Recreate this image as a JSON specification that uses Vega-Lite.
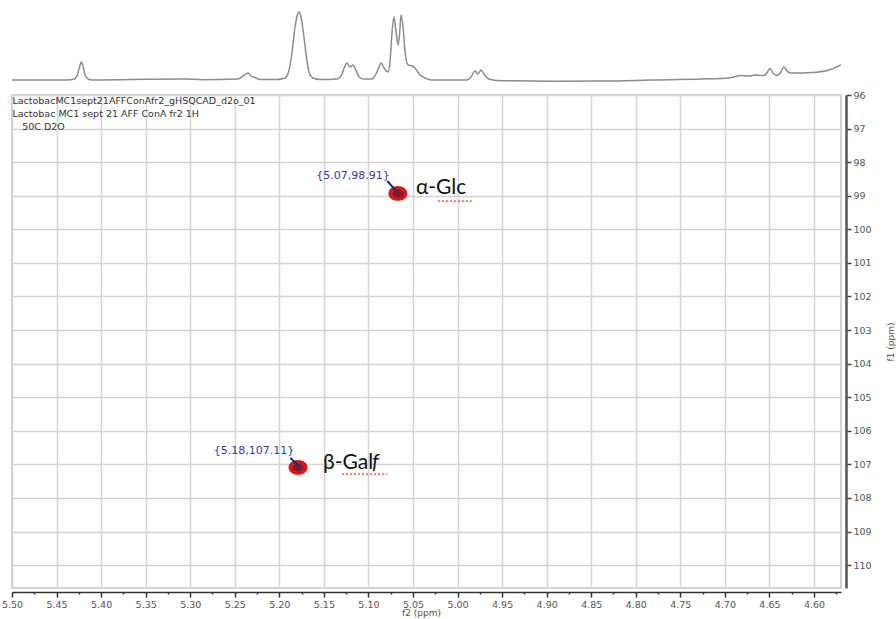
{
  "$schema": "https://vega.github.io/schema/vega-lite/v6.json",
  "padding": {"left": 0, "top": 5, "right": 3, "bottom": 0},
  "background": "white",
  "spacing": 10,
  "bounds": "flush",
  "config": {"view": {"stroke": null}, "font": "DejaVu Sans"},
  "datasets": {
    "spectrum": [
      {"ppm": 5.5, "i": 2}, {"ppm": 5.466, "i": 2}, {"ppm": 5.438, "i": 2}, {"ppm": 5.43, "i": 3},
      {"ppm": 5.427, "i": 6}, {"ppm": 5.4245, "i": 14}, {"ppm": 5.4223, "i": 20}, {"ppm": 5.42, "i": 15},
      {"ppm": 5.418, "i": 7}, {"ppm": 5.4145, "i": 3}, {"ppm": 5.41, "i": 2}, {"ppm": 5.365, "i": 2.5},
      {"ppm": 5.3056, "i": 3}, {"ppm": 5.2867, "i": 2.3}, {"ppm": 5.2463, "i": 3}, {"ppm": 5.2407, "i": 6},
      {"ppm": 5.2351, "i": 9}, {"ppm": 5.2317, "i": 6}, {"ppm": 5.2273, "i": 4.5}, {"ppm": 5.2216, "i": 2.5},
      {"ppm": 5.2026, "i": 2.5}, {"ppm": 5.1936, "i": 4}, {"ppm": 5.1891, "i": 12}, {"ppm": 5.1857, "i": 30},
      {"ppm": 5.1824, "i": 55}, {"ppm": 5.1801, "i": 66}, {"ppm": 5.1779, "i": 70}, {"ppm": 5.1757, "i": 65},
      {"ppm": 5.1734, "i": 52}, {"ppm": 5.17, "i": 28}, {"ppm": 5.1667, "i": 10}, {"ppm": 5.1622, "i": 4},
      {"ppm": 5.1544, "i": 2.5}, {"ppm": 5.1353, "i": 3}, {"ppm": 5.1297, "i": 8}, {"ppm": 5.1263, "i": 16},
      {"ppm": 5.1241, "i": 19}, {"ppm": 5.1207, "i": 15}, {"ppm": 5.1174, "i": 17}, {"ppm": 5.114, "i": 12},
      {"ppm": 5.1106, "i": 5}, {"ppm": 5.105, "i": 3}, {"ppm": 5.096, "i": 3}, {"ppm": 5.0915, "i": 8},
      {"ppm": 5.0881, "i": 15}, {"ppm": 5.0859, "i": 19}, {"ppm": 5.0825, "i": 14}, {"ppm": 5.078, "i": 10},
      {"ppm": 5.0758, "i": 20}, {"ppm": 5.0735, "i": 50}, {"ppm": 5.0713, "i": 65}, {"ppm": 5.069, "i": 50},
      {"ppm": 5.0668, "i": 37}, {"ppm": 5.0651, "i": 48}, {"ppm": 5.0634, "i": 67}, {"ppm": 5.0612, "i": 55},
      {"ppm": 5.0589, "i": 30}, {"ppm": 5.0556, "i": 17}, {"ppm": 5.0511, "i": 16}, {"ppm": 5.0477, "i": 14},
      {"ppm": 5.0432, "i": 8}, {"ppm": 5.0365, "i": 4}, {"ppm": 5.0287, "i": 2}, {"ppm": 4.9894, "i": 2},
      {"ppm": 4.9849, "i": 5}, {"ppm": 4.9805, "i": 11}, {"ppm": 4.9771, "i": 8}, {"ppm": 4.9737, "i": 12},
      {"ppm": 4.9705, "i": 8}, {"ppm": 4.9649, "i": 3}, {"ppm": 4.9559, "i": 1.5}, {"ppm": 4.894, "i": 0.8},
      {"ppm": 4.838, "i": 1}, {"ppm": 4.782, "i": 2}, {"ppm": 4.726, "i": 3}, {"ppm": 4.6957, "i": 4},
      {"ppm": 4.681, "i": 6.5}, {"ppm": 4.6733, "i": 6}, {"ppm": 4.666, "i": 7}, {"ppm": 4.6585, "i": 6.5},
      {"ppm": 4.6548, "i": 7}, {"ppm": 4.6515, "i": 11}, {"ppm": 4.6494, "i": 13.5}, {"ppm": 4.646, "i": 9},
      {"ppm": 4.6416, "i": 6.5}, {"ppm": 4.6371, "i": 10}, {"ppm": 4.6337, "i": 15}, {"ppm": 4.6303, "i": 11},
      {"ppm": 4.6258, "i": 9}, {"ppm": 4.6023, "i": 9.5}, {"ppm": 4.5832, "i": 12}, {"ppm": 4.5698, "i": 17}
    ],
    "header": [
      {"x": 5.4995, "y": 96.18, "text": "LactobacMC1sept21AFFConAfr2_gHSQCAD_d2o_01"},
      {"x": 5.4995, "y": 96.57, "text": "Lactobac MC1 sept 21 AFF ConA fr2 1H"},
      {"x": 5.4885, "y": 96.95, "text": "50C D2O"}
    ],
    "peaks": [
      {"x": 5.067, "y": 98.93, "name": "α-Glc"},
      {"x": 5.179, "y": 107.09, "name": "β-Galf"}
    ],
    "coords": [
      {"x": 5.1174, "y": 98.41, "text": "{5.07,98.91}"},
      {"x": 5.2284, "y": 106.6, "text": "{5.18,107.11}"}
    ],
    "arrows": [
      {"x": 5.0788, "y": 98.56, "x2": 5.0698, "y2": 98.83},
      {"x": 5.1877, "y": 106.81, "x2": 5.1777, "y2": 107.05}
    ],
    "names": [
      {"x": 5.0467, "y": 98.77, "text": "α-Glc"},
      {"x": 5.151, "y": 106.96, "text": "β-Gal"}
    ],
    "italic": [
      {"x": 5.151, "y": 106.96, "text": "f"}
    ],
    "squiggle": [
      {"x": 5.0222, "x2": 4.9841, "y": 99.16},
      {"x": 5.1295, "x2": 5.079, "y": 107.29}
    ]
  },
  "vconcat": [
    {
      "width": 829,
      "height": 80,
      "data": {"name": "spectrum"},
      "mark": {"type": "line", "color": "#8c8c8c", "strokeWidth": 1.5, "interpolate": "monotone", "clip": true},
      "encoding": {
        "x": {"field": "ppm", "type": "quantitative", "scale": {"domain": [4.5697, 5.5], "reverse": true, "nice": false, "zero": false}, "axis": null},
        "y": {"field": "i", "type": "quantitative", "scale": {"domain": [-3, 77], "nice": false, "zero": false}, "axis": null}
      }
    },
    {
      "width": 829,
      "height": 493,
      "view": {"stroke": "#c4c4c4", "strokeWidth": 1.5},
      "encoding": {
        "x": {"field": "x", "type": "quantitative",
          "scale": {"domain": [4.5697, 5.5], "reverse": true, "nice": false, "zero": false},
          "axis": {
            "orient": "bottom", "offset": 4, "title": "f2 (ppm)",
            "values": [5.5, 5.475, 5.45, 5.425, 5.4, 5.375, 5.35, 5.325, 5.3, 5.275, 5.25, 5.225, 5.2, 5.175, 5.15, 5.125, 5.1, 5.075, 5.05, 5.025, 5.0, 4.975, 4.95, 4.925, 4.9, 4.875, 4.85, 4.825, 4.8, 4.775, 4.75, 4.725, 4.7, 4.675, 4.65, 4.625, 4.6, 4.575],
            "format": ".2f",
            "labelExpr": "abs(round(datum.value*40))%2==1 ? '' : datum.label",
            "labelOverlap": false,
            "labelFlush": false,
            "labelFont": "DejaVu Sans", "labelFontSize": 9.5, "labelColor": "#555", "labelPadding": 2,
            "tickSize": {"condition": {"test": "abs(round(datum.value*40))%2==1", "value": 2}, "value": 5},
            "tickColor": "#333", "tickWidth": 1.5,
            "domainColor": "#333", "domainWidth": 1.5,
            "grid": true, "gridColor": "#d4d4d4", "gridWidth": 1.5,
            "gridOpacity": {"condition": {"test": "abs(round(datum.value*40))%2==1", "value": 0}, "value": 1},
            "titleFont": "DejaVu Sans", "titleFontSize": 9, "titleFontWeight": "normal", "titleColor": "#555", "titlePadding": 0, "titleX": 409
          }
        },
        "y": {"field": "y", "type": "quantitative",
          "scale": {"domain": [96, 110.68], "reverse": true, "nice": false, "zero": false},
          "axis": {
            "orient": "right", "offset": 5, "title": "f1 (ppm)", "titleAngle": 270,
            "values": [96, 96.5, 97, 97.5, 98, 98.5, 99, 99.5, 100, 100.5, 101, 101.5, 102, 102.5, 103, 103.5, 104, 104.5, 105, 105.5, 106, 106.5, 107, 107.5, 108, 108.5, 109, 109.5, 110, 110.5],
            "format": "d",
            "labelExpr": "datum.value % 1 != 0 ? '' : datum.label",
            "labelOverlap": false,
            "labelFlush": false,
            "labelFont": "DejaVu Sans", "labelFontSize": 9.5, "labelColor": "#555", "labelPadding": 2,
            "tickSize": {"condition": {"test": "datum.value % 1 != 0", "value": 2}, "value": 5},
            "tickColor": "#444", "tickWidth": 1.5,
            "domainColor": "#555", "domainWidth": 2.5,
            "grid": true, "gridColor": "#d4d4d4", "gridWidth": 1.5,
            "gridOpacity": {"condition": {"test": "datum.value % 1 != 0", "value": 0}, "value": 1},
            "titleFont": "DejaVu Sans", "titleFontSize": 9, "titleFontWeight": "normal", "titleColor": "#555", "titlePadding": 24
          }
        }
      },
      "layer": [
        {
          "data": {"name": "header"},
          "mark": {"type": "text", "align": "left", "baseline": "middle", "font": "DejaVu Sans", "fontSize": 9.5, "color": "#333"},
          "encoding": {"text": {"field": "text"}}
        },
        {
          "data": {"name": "peaks"},
          "mark": {"type": "point", "shape": "M -1 0 A 1 0.78 0 1 0 1 0 A 1 0.78 0 1 0 -1 0 Z", "size": 360, "filled": true, "color": "#d81818", "opacity": 1}
        },
        {
          "data": {"name": "peaks"},
          "mark": {"type": "point", "shape": "M -1 0 A 1 0.75 0 1 0 1 0 A 1 0.75 0 1 0 -1 0 Z", "size": 110, "filled": true, "color": "#7e1a30", "opacity": 1}
        },
        {
          "data": {"name": "arrows"},
          "mark": {"type": "rule", "color": "#1c2a7a", "strokeWidth": 2},
          "encoding": {"x2": {"field": "x2"}, "y2": {"field": "y2"}}
        },
        {
          "data": {"name": "coords"},
          "mark": {"type": "text", "align": "center", "baseline": "middle", "font": "DejaVu Sans", "fontSize": 11, "color": "#3838a8"},
          "encoding": {"text": {"field": "text"}}
        },
        {
          "data": {"name": "names"},
          "mark": {"type": "text", "align": "left", "baseline": "middle", "font": "Lato", "fontSize": 21, "color": "#111"},
          "encoding": {"text": {"field": "text"}}
        },
        {
          "data": {"name": "italic"},
          "mark": {"type": "text", "align": "left", "baseline": "middle", "font": "Lato", "fontSize": 21, "fontStyle": "italic", "color": "#111", "dx": 49},
          "encoding": {"text": {"field": "text"}}
        },
        {
          "data": {"name": "squiggle"},
          "mark": {"type": "rule", "color": "#e03030", "strokeWidth": 1.2, "strokeDash": [2, 2]},
          "encoding": {"x2": {"field": "x2"}}
        }
      ]
    }
  ]
}
